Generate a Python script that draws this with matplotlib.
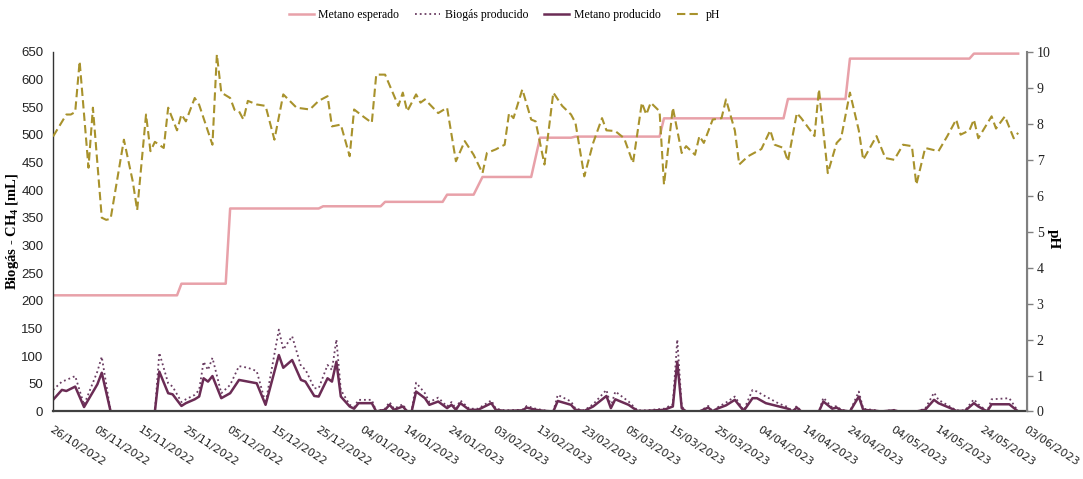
import matplotlib.pyplot as plt
import pandas as pd

plt.rcParams['mathtext.default'] = 'regular'

# Fecha de inicio del ensayo; los dias se cuentan desde aqui
inicio = pd.Timestamp('2022-10-26')

fechas_eje = ['26/10/2022', '05/11/2022', '15/11/2022', '25/11/2022', '05/12/2022',
              '15/12/2022', '25/12/2022', '04/01/2023', '14/01/2023', '24/01/2023',
              '03/02/2023', '13/02/2023', '23/02/2023', '05/03/2023', '15/03/2023',
              '25/03/2023', '04/04/2023', '14/04/2023', '24/04/2023', '04/05/2023',
              '14/05/2023', '24/05/2023', '03/06/2023']

# Metano esperado (acumulado teorico, mL)
dia_esperado = [0, 28, 29, 39, 40, 60, 61, 74, 75, 88, 89, 95, 97, 108, 110, 117, 118,
                137, 138, 165, 166, 179, 180, 207, 208, 218]
metano_esperado = [210, 210, 231, 231, 367, 367, 371, 371, 379, 379, 392, 392, 424, 424,
                   495, 495, 497, 497, 530, 530, 565, 565, 638, 638, 647, 647]

# Produccion diaria de biogas y metano (mL)
dia_prod = [0, 2, 3, 5, 7, 10, 11, 13, 23, 24, 26, 27, 29, 30, 32, 33, 34, 35, 36, 38,
            40, 42, 44, 46, 48, 51, 52, 54, 56, 57, 59, 60, 62, 63, 64, 65, 67, 68, 69, 72,
            73, 75, 76, 77, 79, 80, 81, 82, 84, 85, 87, 89, 90, 91, 92, 94, 96, 99, 100, 102,
            106, 107, 109, 111, 113, 114, 117, 118, 120, 122, 125, 126, 127, 130, 132, 134,
            138, 140, 141, 142, 143, 146, 148, 149, 150, 152, 154, 156, 158, 159, 161, 164,
            166, 167, 168, 169, 173, 174, 176, 177, 178, 180, 182, 183, 186, 187, 190, 191,
            195, 197, 199, 200, 203, 204, 206, 208, 209, 211, 212, 216, 218]
biogas_prod = [39, 54, 57, 64, 12, 72, 99, 0, 0, 106, 51, 45, 17, 22, 30, 39, 90, 75, 97, 33,
               48, 82, 79, 73, 15, 148, 112, 136, 82, 76, 42, 42, 84, 75, 130, 39, 12, 8, 21, 21,
               0, 5, 17, 5, 13, 0, 0, 52, 33, 17, 25, 9, 17, 5, 20, 5, 5, 20, 5, 2,
               3, 10, 5, 2, 0, 30, 18, 5, 2, 13, 39, 9, 36, 18, 2, 2,
               5, 13, 130, 9, 0, 0, 10, 0, 7, 16, 27, 2, 39, 36, 27, 14,
               8, 0, 10, 0, 0, 25, 7, 10, 3, 0, 36, 5, 2, 0, 3, 0,
               0, 5, 34, 21, 7, 2, 2, 22, 13, 0, 22, 24, 0]
metano_prod = [21, 39, 37, 45, 8, 49, 70, 0, 0, 72, 33, 31, 10, 15, 22, 27, 60, 54, 64, 24,
               33, 57, 54, 51, 12, 102, 79, 93, 57, 54, 28, 27, 60, 54, 90, 27, 9, 5, 15, 15,
               0, 3, 12, 3, 9, 0, 0, 36, 24, 12, 18, 6, 12, 3, 15, 3, 3, 15, 3, 1,
               2, 7, 3, 1, 0, 19, 12, 3, 1, 9, 28, 6, 22, 12, 1, 1,
               3, 9, 90, 6, 0, 0, 7, 0, 5, 11, 21, 1, 24, 24, 15, 9,
               5, 0, 7, 0, 0, 18, 5, 7, 2, 0, 27, 3, 1, 0, 2, 0,
               0, 3, 21, 15, 5, 1, 1, 15, 9, 0, 13, 13, 0]

# pH del digestor
dia_ph = [0, 3, 4, 5, 6, 8, 9, 11, 12, 13, 16, 18, 19, 21, 22, 23, 25, 26, 28, 29, 30, 32,
          33, 36, 37, 38, 40, 41, 42, 43, 44, 46, 48, 50, 52, 55, 58, 60, 62, 63, 65, 67,
          68, 70, 72, 73, 75, 78, 79, 80, 82, 83, 84, 87, 89, 91, 93, 95, 97, 98, 100, 102,
          103, 104, 106, 108, 109, 111, 113, 115, 117, 118, 120, 122, 124, 125, 127, 129,
          131, 133, 134, 135, 137, 138, 140, 142, 143, 145, 146, 147, 149, 151, 152, 154,
          155, 157, 160, 162, 163, 165, 166, 168, 169, 172, 173, 175, 177, 178, 180, 182,
          183, 186, 188, 190, 192, 194, 195, 197, 200, 202, 204, 205, 207, 208, 209, 212,
          213, 215, 217, 218]
ph = [7.65, 8.26, 8.26, 8.33, 9.74, 6.78, 8.45, 5.39, 5.33, 5.36, 7.56, 6.4, 5.6, 8.26,
      7.24, 7.5, 7.33, 8.45, 7.82, 8.26, 8.07, 8.72, 8.53, 7.42, 9.93, 8.87, 8.72, 8.39,
      8.35, 8.12, 8.64, 8.54, 8.5, 7.56, 8.82, 8.45, 8.4, 8.64, 8.77, 7.93, 7.98, 7.1,
      8.4, 8.21, 8.03, 9.37, 9.37, 8.5, 8.87, 8.35, 8.82, 8.59, 8.68, 8.3, 8.45, 6.96,
      7.52, 7.14, 6.63, 7.19, 7.29, 7.42, 8.3, 8.16, 8.96, 8.12, 8.07, 6.87, 8.87, 8.5,
      8.26, 8.03, 6.54, 7.47, 8.16, 7.82, 7.8, 7.6, 6.91, 8.59, 8.26, 8.59, 8.35, 6.31,
      8.45, 7.19, 7.38, 7.14, 7.66, 7.47, 8.12, 8.16, 8.68, 7.82, 6.87, 7.1, 7.3, 7.82,
      7.42, 7.33, 6.96, 8.3, 8.16, 7.66, 8.96, 6.63, 7.47, 7.6, 8.87, 7.82, 7.0, 7.66,
      7.05, 7.0, 7.42, 7.38, 6.31, 7.33, 7.24, 7.66, 8.12, 7.7, 7.82, 8.12, 7.6, 8.21,
      7.87, 8.21, 7.6, 7.75]


def a_fecha(dias):
    return inicio + pd.to_timedelta(dias, unit='D')


fig = plt.figure(figsize=(10.83, 4.79), dpi=100)
ax = fig.add_axes([0.049, 0.141, 0.8993, 0.7505])
ax2 = ax.twinx()

l_esp, = ax.plot(a_fecha(dia_esperado), metano_esperado, color='#e8a1a9', lw=1.8,
                 label='Metano esperado')
l_bio, = ax.plot(a_fecha(dia_prod), biogas_prod, color='#6a3d62', lw=1.3, ls=':',
                 label='Biogás producido')
l_met, = ax.plot(a_fecha(dia_prod), metano_prod, color='#6b2c55', lw=1.8,
                 label='Metano producido')
l_ph, = ax2.plot(a_fecha(dia_ph), ph, color='#a8922c', lw=1.5, ls=(0, (4, 2)),
                 label='pH')

ax.set_ylim(0, 650)
ax.set_yticks(range(0, 651, 50))
ax2.set_ylim(0, 10)
ax2.set_yticks(range(0, 11))

pos_eje = pd.to_datetime(fechas_eje, format='%d/%m/%Y')
ax.set_xlim(pos_eje[0], pos_eje[-1])
ax.set_xticks(pos_eje)
ax.set_xticklabels(fechas_eje, rotation=-33, ha='left', va='top',
                   rotation_mode='anchor', fontsize=8, family='DejaVu Sans',
                   color='#222222')

for etiqueta in ax.get_yticklabels():
    etiqueta.set_family('Liberation Sans')
    etiqueta.set_fontsize(9.5)
    etiqueta.set_color('#222222')
for etiqueta in ax2.get_yticklabels():
    etiqueta.set_family('Liberation Serif')
    etiqueta.set_fontsize(10)
    etiqueta.set_color('#222222')

ax.tick_params(axis='x', length=0, pad=9)
ax.tick_params(axis='y', length=0, pad=7)
ax2.tick_params(axis='y', length=4, width=1, color='#808080', pad=3)

for a in (ax, ax2):
    a.spines['top'].set_visible(False)
ax.spines['left'].set_color('#333333')
ax.spines['left'].set_linewidth(1.0)
ax.spines['bottom'].set_color('#404040')
ax.spines['bottom'].set_linewidth(1.6)
ax2.spines['right'].set_color('#808080')
ax2.spines['right'].set_linewidth(1.5)
ax2.spines['left'].set_visible(False)
ax2.spines['bottom'].set_visible(False)

ax.set_ylabel('Biogás - CH$_4$ [mL]', family='Liberation Serif', fontweight='bold',
              fontsize=10.5)
ax.yaxis.set_label_coords(-0.0415, 0.5)
ax.yaxis.label.set_va('center')
ax2.set_ylabel('pH', family='Liberation Serif', fontweight='bold', fontsize=11,
               rotation=270)
ax2.yaxis.set_label_coords(1.027, 0.48)
ax2.yaxis.label.set_va('center')

fig.legend([l_esp, l_bio, l_met, l_ph],
           [l.get_label() for l in (l_esp, l_bio, l_met, l_ph)],
           loc='center', bbox_to_anchor=(0.466, 0.968), ncol=4, frameon=False,
           prop={'family': 'Liberation Serif', 'size': 8.5}, handlelength=2.1,
           columnspacing=1.35, handletextpad=0.4)

fig.savefig('out.png', dpi=100)
